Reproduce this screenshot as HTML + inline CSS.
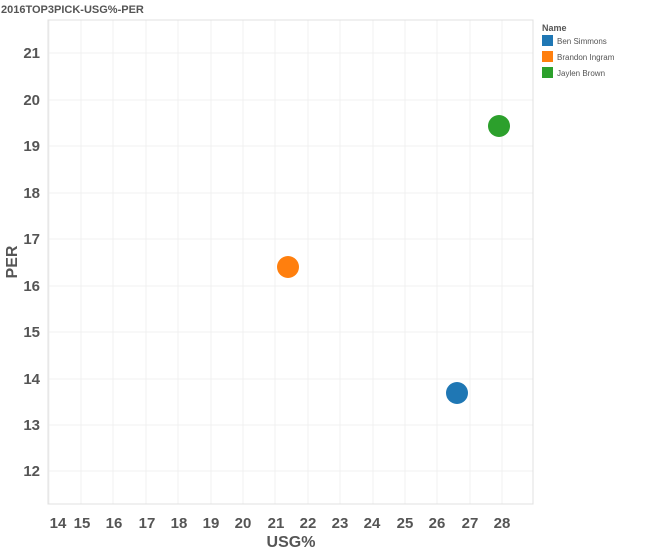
<!DOCTYPE html>
<html><head><style>body{margin:0;background:#fff;}</style></head><body>
<svg width="650" height="553" xmlns="http://www.w3.org/2000/svg" font-family="Liberation Sans, sans-serif">
<text x="1" y="13" font-size="11" font-weight="bold" fill="#555">2016TOP3PICK-USG%-PER</text>
<g stroke="#f1f1f1" stroke-width="1">
<line x1="49" y1="20" x2="49" y2="504"/><line x1="81" y1="20" x2="81" y2="504"/><line x1="113" y1="20" x2="113" y2="504"/><line x1="146" y1="20" x2="146" y2="504"/><line x1="178" y1="20" x2="178" y2="504"/><line x1="211" y1="20" x2="211" y2="504"/><line x1="243" y1="20" x2="243" y2="504"/><line x1="275" y1="20" x2="275" y2="504"/><line x1="308" y1="20" x2="308" y2="504"/><line x1="340" y1="20" x2="340" y2="504"/><line x1="373" y1="20" x2="373" y2="504"/><line x1="405" y1="20" x2="405" y2="504"/><line x1="437" y1="20" x2="437" y2="504"/><line x1="470" y1="20" x2="470" y2="504"/><line x1="502" y1="20" x2="502" y2="504"/>
<line x1="48" y1="53" x2="533" y2="53"/><line x1="48" y1="100" x2="533" y2="100"/><line x1="48" y1="146" x2="533" y2="146"/><line x1="48" y1="193" x2="533" y2="193"/><line x1="48" y1="239" x2="533" y2="239"/><line x1="48" y1="286" x2="533" y2="286"/><line x1="48" y1="332" x2="533" y2="332"/><line x1="48" y1="379" x2="533" y2="379"/><line x1="48" y1="425" x2="533" y2="425"/><line x1="48" y1="471" x2="533" y2="471"/>
</g>
<rect x="48" y="20" width="485" height="484" fill="none" stroke="#e0e0e0"/>
<g font-size="15" font-weight="bold" fill="#555" text-anchor="end">
<text x="40" y="58">21</text><text x="40" y="105">20</text><text x="40" y="151">19</text><text x="40" y="198">18</text><text x="40" y="244">17</text><text x="40" y="291">16</text><text x="40" y="337">15</text><text x="40" y="384">14</text><text x="40" y="430">13</text><text x="40" y="476">12</text>
</g>
<g font-size="15" font-weight="bold" fill="#555" text-anchor="middle">
<text x="58" y="528">14</text><text x="82" y="528">15</text><text x="114" y="528">16</text><text x="147" y="528">17</text><text x="179" y="528">18</text><text x="211" y="528">19</text><text x="243" y="528">20</text><text x="276" y="528">21</text><text x="308" y="528">22</text><text x="340" y="528">23</text><text x="372" y="528">24</text><text x="405" y="528">25</text><text x="437" y="528">26</text><text x="470" y="528">27</text><text x="502" y="528">28</text>
<text x="291" y="547" font-size="16">USG%</text>
<text transform="translate(17,262) rotate(-90)" font-size="16">PER</text>
</g>
<circle cx="457" cy="393" r="11" fill="#1f77b4"/>
<circle cx="288" cy="267" r="11" fill="#ff7f0e"/>
<circle cx="499" cy="126" r="11" fill="#2ca02c"/>
<text x="542" y="31" font-size="9" font-weight="bold" fill="#555">Name</text>
<rect x="542" y="35" width="11" height="11" fill="#1f77b4"/><text x="557" y="44" font-size="8" fill="#555">Ben Simmons</text>
<rect x="542" y="51" width="11" height="11" fill="#ff7f0e"/><text x="557" y="60" font-size="8" fill="#555">Brandon Ingram</text>
<rect x="542" y="67" width="11" height="11" fill="#2ca02c"/><text x="557" y="76" font-size="8" fill="#555">Jaylen Brown</text>
</svg>
</body></html>
